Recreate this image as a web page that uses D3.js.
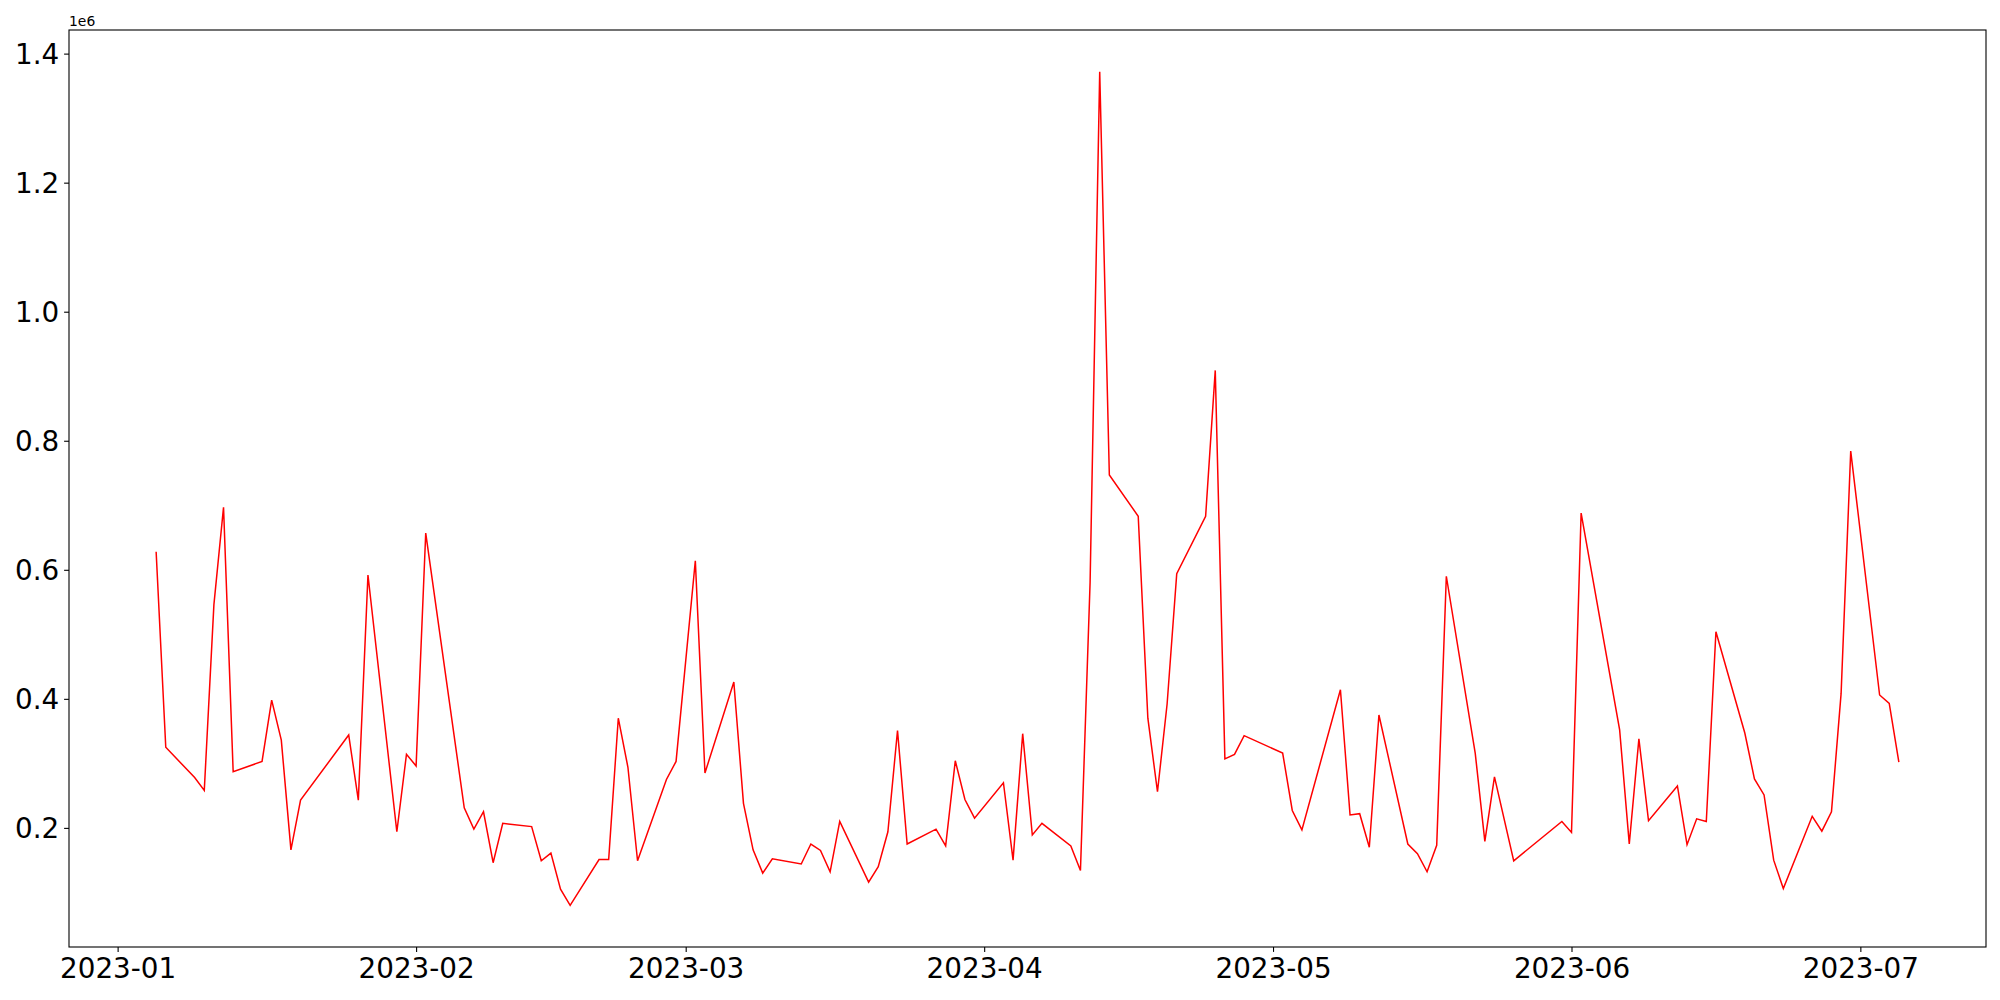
<!DOCTYPE html>
<html lang="en">
<head>
<meta charset="UTF-8">
<title>Daily series 2023</title>
<style>
  body {
    margin: 0;
    background-color: #fff;
  }
  .axis path,
  .axis line {
    fill: none;
    stroke: #000;
    stroke-width: 1.1px;
  }
  .axis text {
    font-family: "DejaVu Sans", sans-serif;
    font-size: 27.8px;
    fill: #000;
  }
  .offset {
    font-family: "DejaVu Sans", sans-serif;
    font-size: 13.9px;
  }
</style>
</head>
<body>
<div class="vizHolder"></div>
<script src="https://cdnjs.cloudflare.com/ajax/libs/d3/7.8.5/d3.min.js"></script>
<script>
var dates = [
  "2023-01-05", "2023-01-06", "2023-01-09", "2023-01-10", "2023-01-11", "2023-01-12", "2023-01-13",
  "2023-01-16", "2023-01-17", "2023-01-18", "2023-01-19", "2023-01-20", "2023-01-25", "2023-01-26",
  "2023-01-27", "2023-01-30", "2023-01-31", "2023-02-01", "2023-02-02", "2023-02-06", "2023-02-07",
  "2023-02-08", "2023-02-09", "2023-02-10", "2023-02-13", "2023-02-14", "2023-02-15", "2023-02-16",
  "2023-02-17", "2023-02-20", "2023-02-21", "2023-02-22", "2023-02-23", "2023-02-24", "2023-02-27",
  "2023-02-28", "2023-03-02", "2023-03-03", "2023-03-06", "2023-03-07", "2023-03-08", "2023-03-09",
  "2023-03-10", "2023-03-13", "2023-03-14", "2023-03-15", "2023-03-16", "2023-03-17", "2023-03-20",
  "2023-03-21", "2023-03-22", "2023-03-23", "2023-03-24", "2023-03-27", "2023-03-28", "2023-03-29",
  "2023-03-30", "2023-03-31", "2023-04-03", "2023-04-04", "2023-04-05", "2023-04-06", "2023-04-07",
  "2023-04-10", "2023-04-11", "2023-04-12", "2023-04-13", "2023-04-14", "2023-04-17", "2023-04-18",
  "2023-04-19", "2023-04-20", "2023-04-21", "2023-04-24", "2023-04-25", "2023-04-26", "2023-04-27",
  "2023-04-28", "2023-05-02", "2023-05-03", "2023-05-04", "2023-05-08", "2023-05-09", "2023-05-10",
  "2023-05-11", "2023-05-12", "2023-05-15", "2023-05-16", "2023-05-17", "2023-05-18", "2023-05-19",
  "2023-05-22", "2023-05-23", "2023-05-24", "2023-05-26", "2023-05-31", "2023-06-01", "2023-06-02",
  "2023-06-06", "2023-06-07", "2023-06-08", "2023-06-09", "2023-06-12", "2023-06-13", "2023-06-14",
  "2023-06-15", "2023-06-16", "2023-06-19", "2023-06-20", "2023-06-21", "2023-06-22", "2023-06-23",
  "2023-06-26", "2023-06-27", "2023-06-28", "2023-06-29", "2023-06-30", "2023-07-03", "2023-07-04",
  "2023-07-05"
];

var values = [
  628000, 325000, 278000, 258000, 546000, 697000, 287000,
  303000, 398000, 336000, 166000, 243000, 344000, 243000,
  592000, 194000, 314000, 296000, 657000, 231000, 198000,
  225000, 146000, 207000, 202000, 149000, 161000, 105000,
  80000, 151000, 151000, 370000, 294000, 149000, 275000,
  303000, 614000, 285000, 426000, 238000, 166000, 130000,
  152000, 144000, 175000, 165000, 132000, 210000, 116000,
  140000, 194000, 351000, 175000, 198000, 172000, 304000,
  244000, 215000, 270000, 150000, 346000, 189000, 207000,
  172000, 134000, 580000, 1372000, 747000, 683000, 370000,
  256000, 392000, 594000, 683000, 909000, 307000, 314000,
  343000, 316000, 227000, 197000, 414000, 220000, 222000,
  170000, 375000, 175000, 160000, 132000, 173000, 590000,
  316000, 179000, 279000, 149000, 210000, 193000, 688000,
  352000, 175000, 338000, 211000, 265000, 174000, 214000,
  210000, 504000, 347000, 276000, 251000, 150000, 106000,
  218000, 195000, 225000, 408000, 784000, 406000, 393000,
  302000
];

var monthTicks = ["2023-01-01", "2023-02-01", "2023-03-01", "2023-04-01", "2023-05-01", "2023-06-01", "2023-07-01"];
var valueTicks = [200000, 400000, 600000, 800000, 1000000, 1200000, 1400000];

var margin = { top: 30, right: 14, bottom: 53, left: 69 },
width = 2000 - margin.left - margin.right,
height = 1000 - margin.top - margin.bottom;

var parse = d3.utcParse("%Y-%m-%d");
var data = dates.map(function (d, i) {
  return { date: parse(d), value: values[i] };
});

// matplotlib style 5% padding on both axes
var xExt = d3.extent(data, function (d) { return d.date; });
var xPad = (xExt[1] - xExt[0]) * 0.05;
var yExt = d3.extent(data, function (d) { return d.value; });
var yPad = (yExt[1] - yExt[0]) * 0.05;

var xScale = d3.scaleUtc().
domain([new Date(+xExt[0] - xPad), new Date(+xExt[1] + xPad)]).
range([0, width]);

var yScale = d3.scaleLinear().
domain([yExt[0] - yPad, yExt[1] + yPad]).
range([height, 0]);

var xAxis = d3.axisBottom(xScale).
tickValues(monthTicks.map(parse)).
tickFormat(d3.utcFormat("%Y-%m")).
tickSizeInner(4.9).tickSizeOuter(0).tickPadding(4.9);

var yAxis = d3.axisLeft(yScale).
tickValues(valueTicks).
tickFormat(function (v) { return d3.format(".1f")(v / 1e6); }).
tickSizeInner(4.9).tickSizeOuter(0).tickPadding(4.9);

var svg = d3.select(".vizHolder").
append("svg").
attr("width", 2000).
attr("height", 1000).
style("display", "block").
append("g").
attr("transform", "translate(" + margin.left + "," + margin.top + ")");

// x-axis
var gx = svg.append("g").
attr("class", "axis").
attr("id", "x-axis").
attr("transform", "translate(0," + height + ")").
call(xAxis);
gx.select(".domain").remove();
gx.selectAll("text").attr("dy", "0.76em");

// y-axis
var gy = svg.append("g").
attr("class", "axis").
attr("id", "y-axis").
call(yAxis);
gy.select(".domain").remove();
gy.selectAll("text").attr("dy", "0.36em");

var line = d3.line().
x(function (d) { return xScale(d.date); }).
y(function (d) { return yScale(d.value); });

svg.append("path").
datum(data).
attr("d", line).
attr("fill", "none").
attr("stroke", "#ff0000").
attr("stroke-width", 1.5).
attr("stroke-linejoin", "miter");

// frame
svg.append("rect").
attr("x", 0).
attr("y", 0).
attr("width", width).
attr("height", height).
attr("fill", "none").
attr("stroke", "#000").
attr("stroke-width", 1.1);

// offset text
svg.append("text").
attr("class", "offset").
attr("x", 0).
attr("y", -4).
text("1e6");
</script>
</body>
</html>
